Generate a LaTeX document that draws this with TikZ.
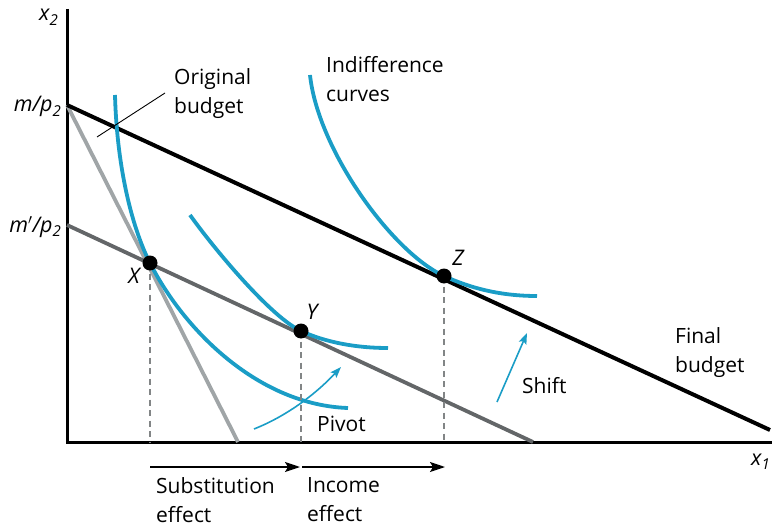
\documentclass[tikz,border=0pt]{standalone}
\usepackage{fontspec}
\setmainfont{Open Sans}
\usetikzlibrary{arrows.meta}
\definecolor{icblue}{HTML}{1A9DC6}
\definecolor{lgray}{HTML}{A0A5A7}
\definecolor{dgray}{HTML}{636668}
\newcommand\sbs[1]{\raisebox{-0.35ex}{\fontsize{15}{15}\selectfont #1}}
\begin{document}
\begin{tikzpicture}[x=1pt,y=-1pt,
  lbl/.style={font=\fontsize{21}{29}\selectfont, align=left, inner sep=0pt, anchor=north west},
  mlbl/.style={font=\fontsize{21.5}{24}\selectfont\itshape, inner sep=0pt},
  axis/.style={line width=3pt, black},
  budget/.style={line width=4pt, black},
  pivline/.style={line width=3.8pt, lgray},
  newline/.style={line width=3.8pt, dgray},
  icurve/.style={line width=3.8pt, icblue},
  guide/.style={line width=1.3pt, dgray!80, dash pattern=on 6pt off 4.5pt},
  effarrow/.style={line width=1.5pt, -{Stealth[length=15pt,width=10pt,inset=3pt]}},
  bluearrow/.style={line width=1.6pt, icblue, -{Stealth[length=11pt,width=8pt,inset=2pt]}},
  dot/.style={circle, fill=black, inner sep=0pt, minimum size=15pt}
]
\useasboundingbox (0,0) rectangle (772,527);

% axes
\coordinate (O) at (67,442);
\coordinate (ytop) at (67,9);
\coordinate (xend) at (772,442);
\draw[axis] (ytop) -- (O) -- (xend);

% budget lines
\coordinate (A) at (67,105);
\coordinate (Aend) at (770,430);
\coordinate (P) at (238,442);
\coordinate (B) at (67,225);
\coordinate (Bend) at (533,442);
\draw[pivline] (A) -- (P);
\draw[newline] (B) -- (Bend);
\draw[budget] (A) -- (Aend);

% points
\coordinate (X) at (150,263);
\coordinate (Y) at (301,331);
\coordinate (Z) at (444,276);

% indifference curves
\draw[icurve] (115,95) .. controls (117,170) and (133,230) .. (X)
  .. controls (185,332) and (260,405) .. (348,408);
\draw[icurve] (190,215) .. controls (215,250) and (271,317) .. (Y)
  .. controls (325,342) and (355,348) .. (388,348);
\draw[icurve] (310,75) .. controls (318,150) and (392,252) .. (Z)
  .. controls (470,288) and (500,296) .. (537,296);

% guides
\coordinate (Xb) at (150,442);
\coordinate (Yb) at (301,442);
\coordinate (Zb) at (444,442);
\draw[guide] (X) -- (Xb);
\draw[guide] (Y) -- (Yb);
\draw[guide] (Z) -- (Zb);

\node[dot] (dX) at (X) {};
\node[dot] (dY) at (Y) {};
\node[dot] (dZ) at (Z) {};

% effect arrows
\coordinate (s0) at (150,467);
\coordinate (s1) at (300,467);
\coordinate (i0) at (302,467);
\coordinate (i1) at (445,467);
\draw[effarrow] (s0) -- (s1);
\draw[effarrow] (i0) -- (i1);

% blue arrows
\coordinate (pv0) at (254,429);
\coordinate (pv1) at (341,367);
\draw[bluearrow] (pv0) .. controls (282,418) and (312,398) .. (pv1);
\coordinate (sh0) at (497,402);
\coordinate (sh1) at (527,333);
\draw[bluearrow] (sh0) -- (sh1);

% leader for original budget
\coordinate (l0) at (165,93);
\coordinate (l1) at (97,137);
\draw[line width=0.9pt] (l0) -- (l1);

% axis and point labels
\node[mlbl, anchor=base west] (x2) at (39,21) {x\sbs{2}};
\node[mlbl, anchor=base west] (x1) at (751,465) {x\sbs{1}};
\node[mlbl, anchor=base east] (mp) at (61,112) {m/p\sbs{2}};
\node[mlbl, anchor=base east] (mpp) at (61,232) {m$'$/p\sbs{2}};
\node[mlbl, anchor=base] (lX) at (134,283) {X};
\node[mlbl, anchor=base] (lY) at (312,319) {Y};
\node[mlbl, anchor=base] (lZ) at (458,265) {Z};

% text labels
\node[lbl] (orig) at (174,68) {Original\\budget};
\node[lbl] (indiff) at (326,56) {Indifference\\curves};
\node[lbl] (final) at (675,327) {Final\\budget};
\node[lbl] (shift) at (522,377) {Shift};
\node[lbl] (pivot) at (317,416) {Pivot};
\node[lbl] (subst) at (156,477) {Substitution\\effect};
\node[lbl] (income) at (307,477) {Income\\effect};
\end{tikzpicture}
\end{document}
